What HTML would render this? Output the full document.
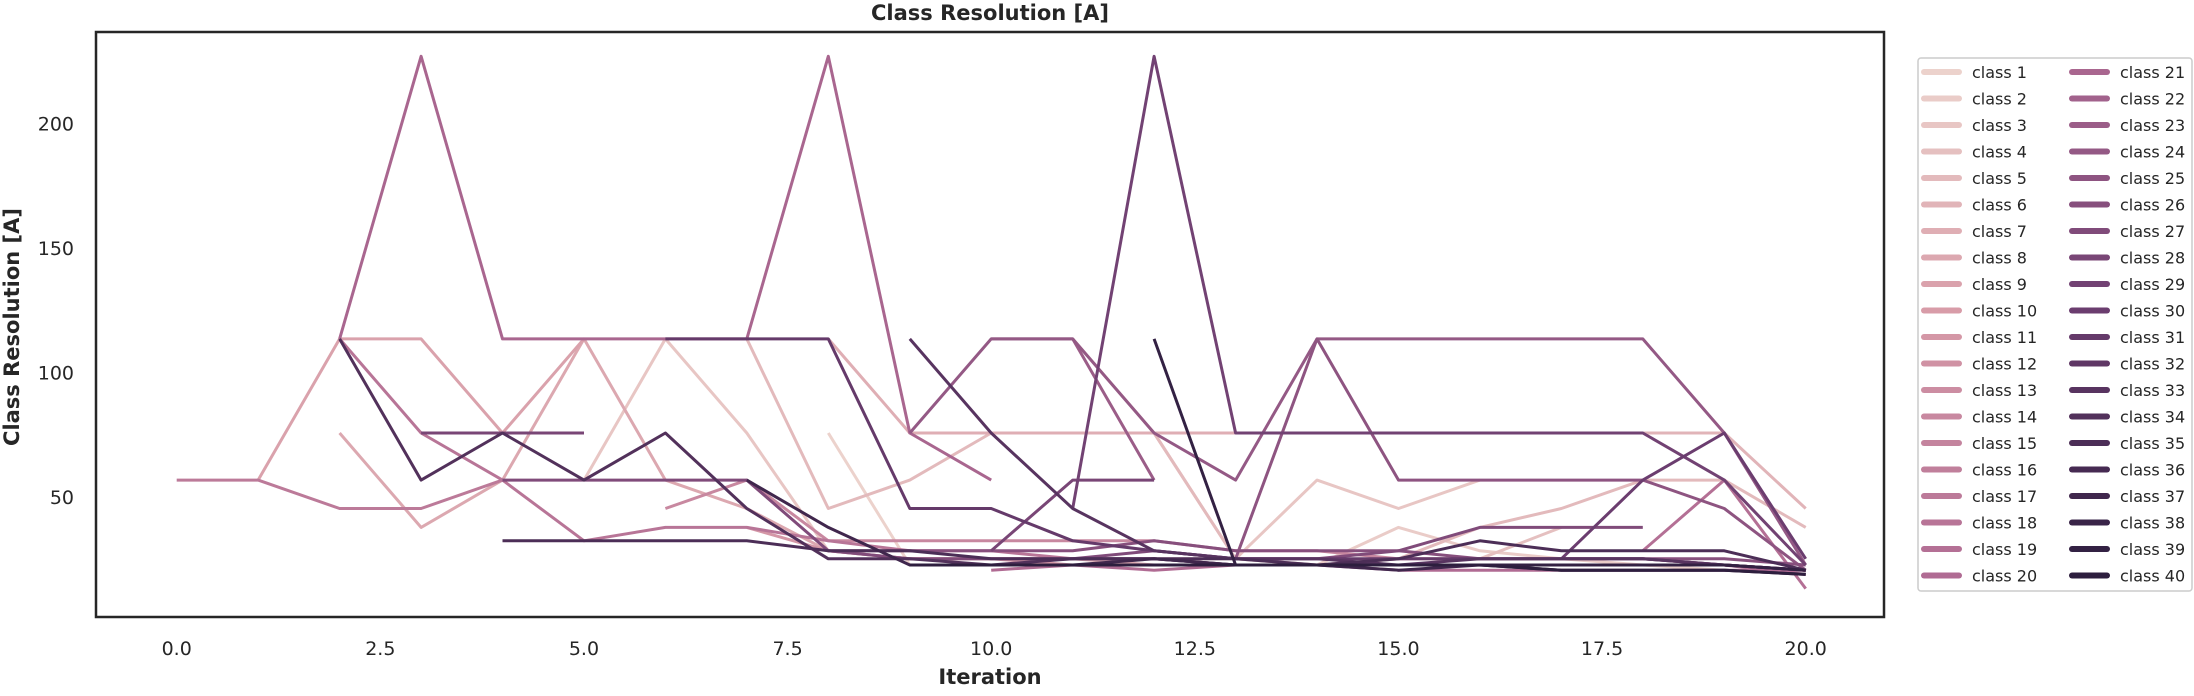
<!DOCTYPE html>
<html><head><meta charset="utf-8"><style>
body{margin:0;background:#fff;}
svg text{font-family:"DejaVu Sans","Liberation Sans",sans-serif;fill:#262626;}
</style></head><body>
<svg id="chart" width="2194" height="691" viewBox="0 0 2194 691" xmlns="http://www.w3.org/2000/svg">
<text x="990" y="20" font-size="21" font-weight="bold" text-anchor="middle">Class Resolution [A]</text>
<text transform="translate(19,327) rotate(-90)" font-size="21" font-weight="bold" text-anchor="middle">Class Resolution [A]</text>
<text x="990" y="684" font-size="21" font-weight="bold" text-anchor="middle">Iteration</text>
<g id="series"></g>
<rect x="96" y="32" width="1788" height="585" fill="none" stroke="#262626" stroke-width="2.5"/>
<g id="ticks"></g>
<rect x="1918" y="58" width="274" height="533" rx="3" fill="#fff" stroke="#cccccc" stroke-width="1.5"/>
<g id="legend"></g>
</svg>
<script>
const _ = null;
const iterations = [0,1,2,3,4,5,6,7,8,9,10,11,12,13,14,15,16,17,18,19,20];
const xTicks = [0,2.5,5,7.5,10,12.5,15,17.5,20];
const xTickLabels = ["0.0","2.5","5.0","7.5","10.0","12.5","15.0","17.5","20.0"];
const yTicks = [50,100,150,200];
const yTickLabels = ["50","100","150","200"];
const classNames = Array.from({length:40},(v,i)=>"class "+(i+1));
const s1 = [_,_,_,_,_,_,_,_,75.7,22.7,22.7,22.7,22.7,22.7,22.7,22.7,22.7,22.7,22.7,20.6,18.9];
const s2 = [_,_,_,_,_,_,_,_,_,_,_,_,_,_,22.7,37.8,28.4,25.2,22.7,22.7,20.6];
const s3 = [_,_,_,_,_,56.8,113.5,75.7,28.4,25.2,25.2,25.2,25.2,25.2,56.8,45.4,56.8,_,_,_,_];
const s4 = [_,_,_,_,_,_,_,_,_,_,_,113.5,75.7,25.2,22.7,25.2,25.2,37.8,_,_,_];
const s5 = [_,_,_,_,_,_,_,113.5,45.4,56.8,75.7,75.7,75.7,25.2,22.7,25.2,37.8,45.4,56.8,56.8,37.8];
const s6 = [_,_,_,_,_,_,_,_,_,_,_,_,_,_,_,_,_,_,75.7,75.7,45.4];
const s7 = [_,_,_,_,_,_,_,_,113.5,75.7,75.7,75.7,75.7,75.7,_,_,_,_,_,_,_];
const s8 = [_,_,75.7,37.8,56.8,113.5,56.8,45.4,28.4,25.2,25.2,25.2,22.7,22.7,22.7,22.7,22.7,22.7,22.7,22.7,20.6];
const s9 = [_,56.8,113.5,113.5,75.7,113.5,_,_,_,_,_,_,_,_,_,_,_,_,_,_,_];
const s10 = [_,_,_,_,_,_,_,_,_,_,_,_,_,_,_,_,_,_,_,_,_];
const s11 = [_,_,_,_,_,_,_,37.8,28.4,25.2,25.2,22.7,22.7,22.7,22.7,22.7,22.7,22.7,22.7,22.7,20.6];
const s12 = [_,_,_,_,_,_,_,_,_,_,_,_,_,_,_,_,_,_,_,_,_];
const s13 = [_,_,_,_,_,_,_,_,_,_,_,_,_,_,_,_,_,_,_,_,_];
const s14 = [_,_,_,_,_,_,45.4,56.8,32.4,32.4,32.4,32.4,32.4,28.4,28.4,25.2,25.2,25.2,25.2,22.7,20.6];
const s15 = [_,_,_,_,_,_,_,_,_,_,_,_,_,_,_,_,_,_,_,_,_];
const s16 = [_,_,_,_,_,_,_,_,_,_,_,_,_,_,_,_,_,_,_,_,_];
const s17 = [56.8,56.8,45.4,45.4,56.8,_,_,_,_,_,_,_,_,_,_,_,_,_,_,_,_];
const s18 = [_,_,113.5,75.7,56.8,32.4,37.8,37.8,32.4,28.4,28.4,25.2,25.2,22.7,22.7,22.7,22.7,22.7,22.7,22.7,18.9];
const s19 = [_,_,_,_,_,_,_,_,_,_,_,_,_,_,_,_,_,_,28.4,56.8,13.2];
const s20 = [_,_,_,_,_,_,_,_,_,_,20.6,22.7,20.6,22.7,22.7,20.6,20.6,20.6,20.6,20.6,20.6];
const s21 = [_,_,113.5,227,113.5,113.5,113.5,113.5,227,75.7,56.8,_,_,_,_,_,_,_,_,_,_];
const s22 = [_,_,_,_,_,_,_,_,_,_,_,_,_,_,_,_,_,_,_,_,_];
const s23 = [_,_,_,_,_,_,_,_,_,_,113.5,113.5,56.8,_,_,_,_,_,_,_,_];
const s24 = [_,_,_,_,_,_,_,_,_,75.7,113.5,113.5,75.7,56.8,113.5,113.5,113.5,113.5,113.5,75.7,22.7];
const s25 = [_,_,_,_,_,_,_,_,_,_,_,_,_,25.2,113.5,56.8,56.8,56.8,56.8,45.4,20.6];
const s26 = [_,_,_,_,_,_,_,_,28.4,28.4,28.4,28.4,32.4,28.4,28.4,28.4,25.2,25.2,25.2,25.2,22.7];
const s27 = [_,_,_,_,56.8,56.8,56.8,56.8,28.4,25.2,25.2,25.2,28.4,25.2,25.2,28.4,37.8,37.8,37.8,_,_];
const s28 = [_,_,_,75.7,75.7,75.7,_,_,_,_,28.4,56.8,56.8,_,_,_,_,_,_,_,_];
const s29 = [_,_,_,_,_,_,_,_,_,_,_,45.4,227,75.7,75.7,75.7,75.7,75.7,75.7,56.8,22.7];
const s30 = [_,_,_,_,_,_,_,_,_,_,_,_,_,_,_,_,_,25.2,56.8,75.7,25.2];
const s31 = [_,_,_,_,_,_,113.5,113.5,113.5,45.4,45.4,32.4,28.4,25.2,25.2,25.2,25.2,25.2,25.2,22.7,20.6];
const s32 = [_,_,_,_,_,_,_,_,_,_,_,_,_,_,_,_,_,_,_,_,_];
const s33 = [_,_,_,_,_,_,_,_,_,113.5,75.7,45.4,28.4,25.2,25.2,22.7,25.2,25.2,25.2,22.7,20.6];
const s34 = [_,_,113.5,56.8,75.7,56.8,75.7,45.4,25.2,25.2,22.7,25.2,25.2,22.7,22.7,22.7,22.7,22.7,22.7,22.7,20.6];
const s35 = [_,_,_,_,32.4,32.4,32.4,32.4,28.4,28.4,25.2,25.2,25.2,25.2,22.7,25.2,32.4,28.4,28.4,28.4,20.6];
const s36 = [_,_,_,_,_,_,_,_,_,_,_,_,_,_,_,_,_,_,_,_,_];
const s37 = [_,_,_,_,_,_,_,56.8,37.8,22.7,22.7,22.7,25.2,22.7,22.7,20.6,22.7,20.6,20.6,20.6,18.9];
const s38 = [_,_,_,_,_,_,_,_,_,_,_,_,_,_,_,_,_,_,_,_,_];
const s39 = [_,_,_,_,_,_,_,_,_,_,_,_,113.5,22.7,22.7,22.7,22.7,22.7,22.7,22.7,20.6];
const s40 = [_,_,_,_,_,_,_,_,_,22.7,22.7,22.7,22.7,22.7,22.7,22.7,22.7,20.6,20.6,20.6,18.9];
const allSeries = [s1,s2,s3,s4,s5,s6,s7,s8,s9,s10,s11,s12,s13,s14,s15,s16,s17,s18,s19,s20,s21,s22,s23,s24,s25,s26,s27,s28,s29,s30,s31,s32,s33,s34,s35,s36,s37,s38,s39,s40];

const NS="http://www.w3.org/2000/svg";
const X0=176.7, XS=81.45, Y0=621.5, YS=2.49;
function xPos(i){return X0+i*XS;}
function yPos(v){return Y0-v*YS;}
const anchors=[[0,[236,210,204]],[9,[216,156,168]],[19,[176,107,147]],[29,[107,61,111]],[39,[45,30,62]]];
function colorFor(k){
  for(let a=0;a<anchors.length-1;a++){
    const [k0,c0]=anchors[a],[k1,c1]=anchors[a+1];
    if(k>=k0&&k<=k1){const t=(k-k0)/(k1-k0);
      return "rgb("+c0.map((c,j)=>Math.round(c+(c1[j]-c)*t)).join(",")+")";}
  }
  return "rgb(45,30,62)";
}
const gS=document.getElementById("series");
allSeries.forEach((s,k)=>{
  let d="",pen=false;
  s.forEach((v,i)=>{
    if(v===null){pen=false;return;}
    d+=(pen?"L":"M")+xPos(iterations[i]).toFixed(1)+","+yPos(v).toFixed(1);
    pen=true;
  });
  if(!d)return;
  const p=document.createElementNS(NS,"path");
  p.setAttribute("d",d);
  p.setAttribute("fill","none");
  p.setAttribute("stroke",colorFor(k));
  p.setAttribute("stroke-width","3");
  p.setAttribute("stroke-linejoin","round");
  
  
  gS.appendChild(p);
});
const gT=document.getElementById("ticks");
xTicks.forEach((t,i)=>{
  const e=document.createElementNS(NS,"text");
  e.setAttribute("x",xPos(t));e.setAttribute("y",655);
  e.setAttribute("font-size","19");e.setAttribute("text-anchor","middle");
  e.textContent=xTickLabels[i];
  
  
  gT.appendChild(e);
});
yTicks.forEach((t,i)=>{
  const e=document.createElementNS(NS,"text");
  e.setAttribute("x",74);e.setAttribute("y",yPos(t)+7);
  e.setAttribute("font-size","19");e.setAttribute("text-anchor","end");
  e.textContent=yTickLabels[i];
  
  
  gT.appendChild(e);
});
const gL=document.getElementById("legend");
classNames.forEach((n,k)=>{
  const col=k<20?0:1, row=k%20;
  const y=72+row*26.5;
  const hx=col?2069:1921, tx=col?2120:1972;
  const l=document.createElementNS(NS,"line");
  l.setAttribute("x1",hx+3);l.setAttribute("x2",hx+38);l.setAttribute("y1",y);l.setAttribute("y2",y);
  l.setAttribute("stroke",colorFor(k));l.setAttribute("stroke-width","6");l.setAttribute("stroke-linecap","round");
  
  
  gL.appendChild(l);
  const t=document.createElementNS(NS,"text");
  t.setAttribute("x",tx);t.setAttribute("y",y+6);t.setAttribute("font-size","16");
  t.textContent=n;
  
  
  gL.appendChild(t);
});
</script>
</body></html>
